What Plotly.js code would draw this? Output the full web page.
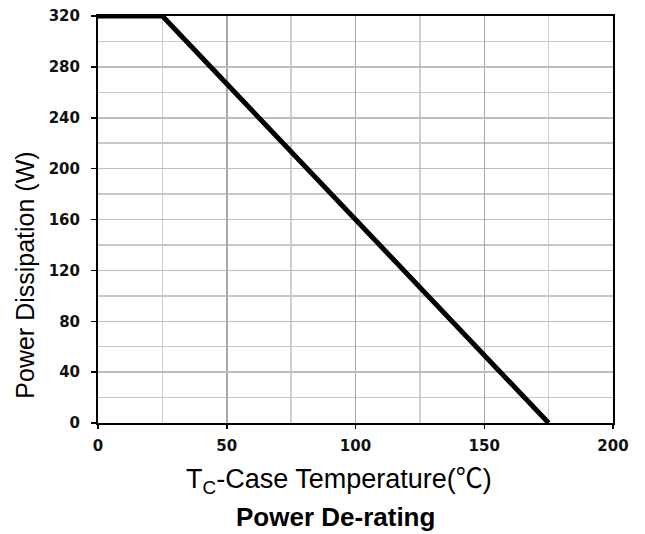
<!DOCTYPE html>
<html><head><meta charset="utf-8">
<script src="https://cdn.plot.ly/plotly-3.0.1.min.js"></script>
<style>body{margin:0;background:#fff}</style>
</head><body>
<div id="chart" style="width:645px;height:534px"></div>
<script>
const caseTemp = [0, 25, 175];
const powerW = [320, 320, 0];
const xTicks = [0, 50, 100, 150, 200];
const yTicks = [0, 40, 80, 120, 160, 200, 240, 280, 320];
const xTitle = 'T<sub>C</sub>-Case Temperature(<span style="font-family:Noto Sans CJK SC">℃</span>)';
const yTitle = 'Power Dissipation (W)';
const chartTitle = 'Power De-rating';

const tickFont = {size: 15, family: 'DejaVu Sans, sans-serif', weight: 'bold', color: '#111'};
const trace = {x: caseTemp, y: powerW, mode: 'lines', line: {color: '#000', width: 5}, hoverinfo: 'skip'};
const layout = {
  width: 645, height: 534,
  margin: {l: 98, r: 32, t: 16, b: 111},
  paper_bgcolor: '#fff', plot_bgcolor: '#fff',
  showlegend: false,
  font: {family: 'Liberation Sans, Arial, sans-serif', color: '#000'},
  xaxis: {
    range: [0, 200], tickvals: xTicks, ticktext: xTicks.map(String),
    showgrid: true, gridcolor: '#a8a8a8', gridwidth: 1.5,
    minor: {dtick: 25, tick0: 0, showgrid: true, gridcolor: '#cfcfcf', gridwidth: 1.5, ticks: ''},
    showline: true, linecolor: '#000', linewidth: 2, mirror: true,
    ticks: 'outside', ticklen: 4, tickcolor: '#000', tickwidth: 1.5,
    ticklabelstandoff: 4,
    tickfont: tickFont,
    zeroline: false, fixedrange: true
  },
  yaxis: {
    range: [0, 320], tickvals: yTicks, ticktext: yTicks.map(String),
    showgrid: true, gridcolor: '#bdbdbd', gridwidth: 1.5,
    minor: {dtick: 20, tick0: 0, showgrid: true, gridcolor: '#c8c8c8', gridwidth: 1.5, ticks: ''},
    showline: true, linecolor: '#000', linewidth: 2, mirror: true,
    ticks: 'outside', ticklen: 5, tickcolor: '#000', tickwidth: 1.5,
    ticklabelstandoff: 8,
    tickfont: tickFont,
    zeroline: false, fixedrange: true
  },
  annotations: [{
    text: yTitle, xref: 'paper', yref: 'paper', x: 0, y: 0.362,
    xshift: -73, textangle: -90, xanchor: 'center', yanchor: 'middle', showarrow: false,
    font: {size: 25, color: '#000'}
  }, {
    text: xTitle, xref: 'paper', yref: 'paper', x: 0.5, y: 0,
    xshift: -17, yshift: -54, xanchor: 'center', yanchor: 'middle', showarrow: false,
    font: {size: 27, color: '#000'}
  }, {
    text: '<b>' + chartTitle + '</b>', xref: 'paper', yref: 'paper', x: 0.5, y: 0,
    xshift: -20, yshift: -94, xanchor: 'center', yanchor: 'middle', showarrow: false,
    font: {size: 26, color: '#000'}
  }]
};
Plotly.newPlot('chart', [trace], layout, {displayModeBar: false, staticPlot: true});
</script>
</body></html>
